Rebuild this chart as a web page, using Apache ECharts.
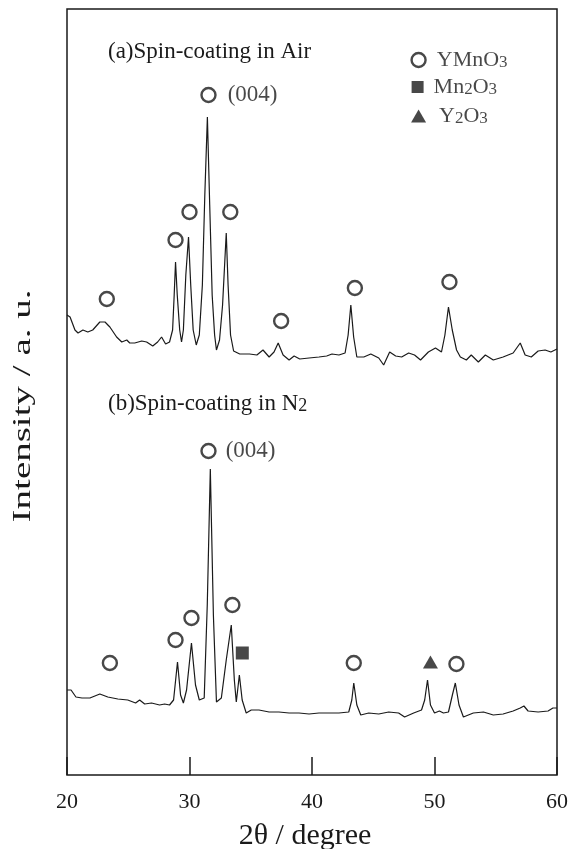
<!DOCTYPE html>
<html>
<head>
<meta charset="utf-8">
<script src="https://cdn.jsdelivr.net/npm/echarts@6/dist/echarts.min.js"></script>
<style>
  html, body { margin: 0; padding: 0; background: #fff; }
  #chart { width: 571px; height: 849px; }
</style>
</head>
<body>
<div id="chart"></div>
<script>
// x axis ticks (2θ, degree)
const xTicks = [20, 30, 40, 50, 60];

// (a) spin-coating in air : 2θ and intensity (a.u., offset trace)
const angleA = [20.0, 20.25, 20.65, 20.9, 21.3, 21.7, 22.1, 22.68, 23.1, 23.5, 24.05, 24.47, 24.88, 25.12, 25.53, 26.1, 26.5, 27.0, 27.4, 27.72, 28.05, 28.37, 28.62, 28.75, 28.86, 29.0, 29.2, 29.35, 29.5, 29.7, 29.92, 30.1, 30.3, 30.55, 30.8, 31.05, 31.25, 31.46, 31.65, 31.85, 32.05, 32.2, 32.45, 32.7, 33.0, 33.15, 33.35, 33.6, 34.1, 34.9, 35.5, 36.0, 36.5, 36.9, 37.24, 37.64, 38.13, 38.54, 39.0, 39.76, 40.57, 41.2, 41.63, 42.2, 42.7, 42.95, 43.17, 43.4, 43.66, 44.23, 44.8, 45.45, 45.85, 46.34, 46.83, 47.32, 47.89, 48.37, 48.86, 49.5, 50.08, 50.57, 50.85, 51.14, 51.45, 51.8, 52.11, 52.6, 53.0, 53.58, 54.15, 54.8, 55.6, 56.42, 57.0, 57.4, 57.9, 58.46, 59.03, 59.5, 60.0];
const countsA = [460, 458, 445, 442, 445, 443, 445, 453, 453, 448, 438, 433, 435, 432, 432, 434, 433, 429, 433, 438, 431, 433, 445, 480, 513, 480, 445, 433, 445, 500, 538, 490, 445, 430, 440, 490, 580, 658, 570, 480, 440, 425, 435, 470, 542, 490, 440, 424, 421, 421, 420, 425, 418, 423, 432, 420, 415, 419, 416, 417, 418, 419, 421, 420, 422, 440, 470, 438, 418, 418, 421, 417, 410, 423, 419, 418, 422, 420, 415, 423, 427, 423, 440, 468, 445, 425, 418, 415, 420, 413, 420, 415, 418, 422, 432, 420, 418, 424, 425, 423, 426];

// (b) spin-coating in N2
const angleB = [20.0, 20.33, 20.73, 21.22, 21.87, 22.68, 23.33, 24.15, 24.96, 25.6, 25.93, 26.34, 26.9, 27.56, 27.97, 28.37, 28.7, 29.02, 29.27, 29.5, 29.76, 30.16, 30.49, 30.8, 31.2, 31.45, 31.7, 31.95, 32.2, 32.6, 33.0, 33.41, 33.66, 33.82, 34.07, 34.3, 34.63, 35.04, 35.67, 36.5, 37.3, 38.13, 38.94, 39.76, 40.57, 41.38, 42.2, 43.0, 43.25, 43.41, 43.66, 43.98, 44.63, 45.45, 46.26, 47.07, 47.56, 48.3, 48.94, 49.2, 49.43, 49.67, 50.0, 50.4, 50.73, 51.14, 51.46, 51.7, 52.0, 52.36, 53.17, 54.0, 54.8, 55.6, 56.42, 57.0, 57.3, 57.64, 58.46, 59.27, 59.67, 60.0];
const countsB = [85, 85, 78, 77, 77, 81, 78, 76, 75, 72, 75, 71, 72, 70, 71, 70, 75, 113, 80, 72, 85, 132, 90, 75, 77, 170, 306, 160, 73, 77, 115, 150, 95, 73, 100, 75, 62, 65, 65, 63, 63, 62, 62, 61, 62, 62, 62, 63, 75, 92, 70, 60, 62, 61, 63, 62, 58, 62, 65, 75, 95, 70, 62, 64, 62, 63, 80, 92, 70, 58, 62, 63, 60, 61, 64, 67, 69, 64, 63, 64, 67, 67];

// phase markers
const ymnoAngleA = [23.25, 28.86, 30.0, 31.55, 33.33, 37.48, 43.5, 51.22];
const ymnoHeightA = [476, 535, 563, 680, 563, 454, 487, 493];
const ymnoAngleB = [23.5, 28.86, 30.16, 31.55, 33.5, 43.41, 51.79];
const ymnoHeightB = [112, 135, 157, 324, 170, 112, 111];
const mn2o3Angle = [34.31];
const mn2o3Height = [122];
const y2o3Angle = [49.67];
const y2o3Height = [113];

// legend entries
const legendNames = ['YMnO{s|3}', 'Mn{s|2}O{s|3}', 'Y{s|2}O{s|3}'];
const legendAngle = [48.7, 48.62, 48.7];
const legendHeight = [715, 688, 659];

const serif = "'Liberation Serif', 'Times New Roman', serif";
const ink = '#1a1a1a';
const richSub = {
	s: { fontSize: 17, fontFamily: serif, color: ink, verticalAlign: 'bottom', padding: [6, 0, 0, 0] },
};

const zip = (xs, ys) => xs.map((x, i) => [x, ys[i]]);

const chart = echarts.init(document.getElementById('chart'));

const circleStyle = { color: '#fff', borderColor: ink, borderWidth: 2.4 };

// (004) label on the strongest peak marker
const withPeakLabel = (points, peakIndex, dist) =>
	points.map((p, i) =>
		i === peakIndex
			? {
					value: p,
					label: {
						show: true,
						position: 'right',
						distance: dist,
						formatter: '(004)',
						fontFamily: serif,
						fontSize: 23,
						color: ink,
					},
				}
			: p
	);

const option = {
	animation: false,
	backgroundColor: '#fff',
	grid: {
		left: 67,
		right: 11,
		top: 9,
		bottom: 74,
		show: true,
		borderColor: ink,
		borderWidth: 1.5,
	},
	xAxis: {
		type: 'value',
		min: xTicks[0],
		max: xTicks[xTicks.length - 1],
		interval: 10,
		axisLine: { show: false },
		axisTick: { show: true, inside: true, length: 18, lineStyle: { color: ink, width: 1.5 } },
		axisLabel: { fontFamily: serif, fontSize: 22, color: ink, margin: 16 },
		splitLine: { show: false },
	},
	yAxis: {
		type: 'value',
		min: 0,
		max: 766,
		axisLine: { show: false },
		axisTick: { show: false },
		axisLabel: { show: false },
		splitLine: { show: false },
	},
	graphic: [
		{
			type: 'text',
			left: 108,
			top: 40,
			style: {
				text: '(a)Spin-coating in Air',
				font: '23px ' + serif,
				fill: ink,
			},
		},
		{
			type: 'text',
			left: 108,
			top: 392,
			style: {
				text: '(b)Spin-coating in N{s|2}',
				font: '23px ' + serif,
				fill: ink,
				rich: { s: { fontSize: 18, fontFamily: serif, fill: ink, verticalAlign: 'bottom', padding: [6, 0, 0, 0] } },
			},
		},
		{
			type: 'text',
			x: 23,
			y: 406,
			rotation: Math.PI / 2,
			scaleX: 1.5,
			style: {
				text: 'Intensity / a. u.',
				font: '26px ' + serif,
				fill: ink,
				align: 'center',
				verticalAlign: 'middle',
			},
		},
		{
			type: 'text',
			x: 305,
			y: 836,
			style: {
				text: '2θ / degree',
				font: '30px ' + serif,
				fill: ink,
				align: 'center',
				verticalAlign: 'middle',
			},
		},
	],
	series: [
		{
			name: 'Air',
			type: 'line',
			data: zip(angleA, countsA),
			symbol: 'none',
			lineStyle: { color: ink, width: 1.2 },
		},
		{
			name: 'N2',
			type: 'line',
			data: zip(angleB, countsB),
			symbol: 'none',
			lineStyle: { color: ink, width: 1.2 },
		},
		{
			name: 'YMnO3 (a)',
			type: 'scatter',
			symbol: 'circle',
			symbolSize: 14,
			itemStyle: circleStyle,
			data: withPeakLabel(zip(ymnoAngleA, ymnoHeightA), 3, 11),
		},
		{
			name: 'YMnO3 (b)',
			type: 'scatter',
			symbol: 'circle',
			symbolSize: 14,
			itemStyle: circleStyle,
			data: withPeakLabel(zip(ymnoAngleB, ymnoHeightB), 3, 9),
		},
		{
			name: 'Mn2O3',
			type: 'scatter',
			symbol: 'rect',
			symbolSize: 13,
			itemStyle: { color: ink },
			data: zip(mn2o3Angle, mn2o3Height),
		},
		{
			name: 'Y2O3',
			type: 'scatter',
			symbol: 'triangle',
			symbolSize: [15, 13],
			itemStyle: { color: ink },
			data: zip(y2o3Angle, y2o3Height),
		},
		{
			name: 'legend',
			type: 'scatter',
			data: legendNames.map((name, i) => ({
				value: [legendAngle[i], legendHeight[i]],
				symbol: ['circle', 'rect', 'triangle'][i],
				symbolSize: [14, 12, [15, 13]][i],
				itemStyle: i === 0 ? circleStyle : { color: ink },
				label: {
					show: true,
					position: 'right',
					distance: [10, 10, 13][i],
					formatter: name,
					fontFamily: serif,
					fontSize: 22,
					color: ink,
					rich: richSub,
				},
			})),
		},
	],
};

chart.setOption(option);
</script>
</body>
</html>
